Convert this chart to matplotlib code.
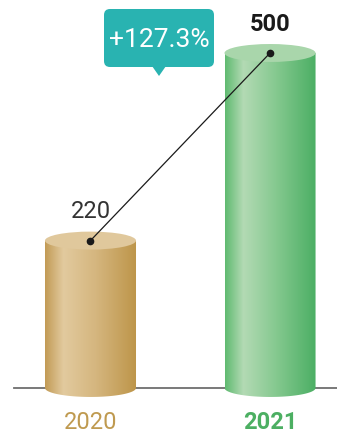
import numpy as np
import matplotlib.pyplot as plt
from matplotlib.colors import LinearSegmentedColormap
from matplotlib.patches import Ellipse, PathPatch, FancyBboxPatch, Polygon
from matplotlib.path import Path

plt.rcParams['font.family'] = ['Roboto', 'DejaVu Sans']

years = ['2020', '2021']
values = [220, 500]
change_label = '+127.3%'

# side shading of each cylinder (left edge -> highlight -> right edge) and lid colour
body_colors = [
    ['#c29b55', '#e2ca9e', '#d5b67f', '#bd9549'],
    ['#5fba70', '#b3dab4', '#86c990', '#4aae63'],
]
lid_colors = ['#e0c89c', '#a9d6ab']
year_colors = ['#bf9a50', '#4caf62']
year_weights = ['normal', 'bold']
value_weights = ['normal', 'bold']
value_colors = ['#333333', '#1a1a1a']


def draw_cylinder(ax, xc, value, half_w, ell_h, colors, lid_color):
    # body outline: straight sides with a rounded (elliptical) bottom
    t = np.linspace(np.pi, 2 * np.pi, 60)
    arc = np.column_stack([xc + half_w * np.cos(t), ell_h * np.sin(t)])
    verts = np.vstack([[xc - half_w, value], arc, [xc + half_w, value], [xc - half_w, value]])
    codes = [Path.MOVETO] + [Path.LINETO] * (len(verts) - 2) + [Path.CLOSEPOLY]
    body = PathPatch(Path(verts, codes), facecolor='none', edgecolor='none',
                     transform=ax.transData)
    ax.add_patch(body)

    cmap = LinearSegmentedColormap.from_list(
        'shade', list(zip([0.0, 0.2, 0.55, 1.0], colors)))
    grad = np.linspace(0, 1, 256).reshape(1, -1)
    img = ax.imshow(grad, cmap=cmap, aspect='auto', zorder=2,
                    extent=[xc - half_w, xc + half_w, -ell_h, value])
    img.set_clip_path(body)

    lid = Ellipse((xc, value), 2 * half_w, 2 * ell_h, facecolor=lid_color,
                  edgecolor='none', zorder=3)
    ax.add_patch(lid)


fig = plt.figure(figsize=(3.37, 4.33), dpi=100)
ax = fig.add_axes([0, 0, 1, 1])
ax.axis('off')

x = np.arange(len(values))
half_w = 0.2535
ell_h = 13.4

ax.axhline(0, xmin=0.042, xmax=1.0, color='#6e6e6e', lw=1.3, zorder=1)

for i, v in enumerate(values):
    draw_cylinder(ax, x[i], v, half_w, ell_h, body_colors[i], lid_colors[i])
    ax.annotate(str(v), (x[i], v), xytext=(0, 16), textcoords='offset points',
                ha='center', va='baseline', fontsize=17, color=value_colors[i],
                fontweight=value_weights[i], zorder=5)
    ax.annotate(years[i], (x[i], 0), xytext=(0, -29.5), textcoords='offset points',
                ha='center', va='baseline', fontsize=17, color=year_colors[i],
                fontweight=year_weights[i], zorder=5)

# growth line between the two lids
ax.plot(x, values, color='#1a1a1a', lw=0.9, marker='o', markersize=4.5, zorder=4)

ax.set_xlim(-0.504, 1.373)
ax.set_ylim(-67.2, 579.1)

# speech-bubble with the percentage change
bubble = FancyBboxPatch((1.04, 3.66), 1.10, 0.58,
                        boxstyle='round,pad=0,rounding_size=0.06',
                        facecolor='#29b3b1', edgecolor='none',
                        transform=fig.dpi_scale_trans, zorder=6)
fig.patches.append(bubble)
pointer = Polygon([[1.52, 3.67], [1.66, 3.67], [1.59, 3.57]], closed=True,
                  facecolor='#29b3b1', edgecolor='none',
                  transform=fig.dpi_scale_trans, zorder=6)
fig.patches.append(pointer)
fig.text(1.59 / 3.37, 3.86 / 4.33, change_label, ha='center', va='baseline',
         fontsize=19, color='white', fontweight='normal', zorder=7)

fig.savefig('out.png', dpi=100)
